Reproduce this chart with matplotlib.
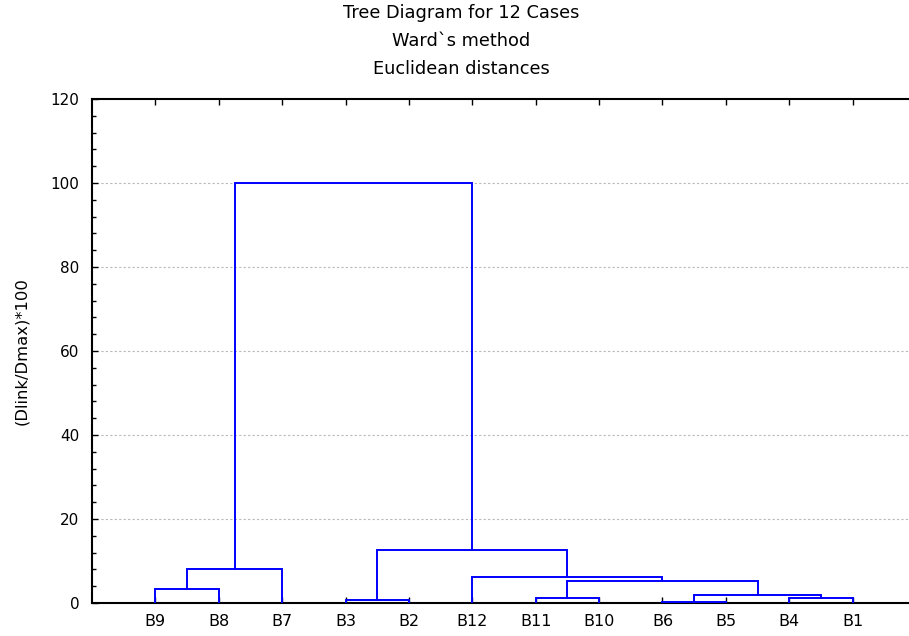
import matplotlib
matplotlib.use('Agg')
import matplotlib.pyplot as plt
from matplotlib.ticker import MultipleLocator

plt.rcParams['font.family'] = ['DejaVu Sans']

# leaf order as shown on the x axis
labels = ['B9', 'B8', 'B7', 'B3', 'B2', 'B12', 'B11', 'B10', 'B6', 'B5', 'B4', 'B1']

# merges: node name, the two joined members, linkage distance (Dlink/Dmax)*100
merge_name = ['m1', 'm2', 'm3', 'm4', 'm5', 'm6', 'm7', 'm8', 'm9', 'm10', 'm11']
merge_a = ['B6', 'B3', 'B11', 'B4', 'm1', 'B9', 'm3', 'B12', 'm6', 'm2', 'm9']
merge_b = ['B5', 'B2', 'B10', 'B1', 'm4', 'B8', 'm5', 'm7', 'B7', 'm8', 'm10']
merge_height = [0.3, 0.8, 1.1, 1.1, 2.0, 3.4, 5.3, 6.2, 8.1, 12.7, 100.0]

title_lines = ['Tree Diagram for 12 Cases', 'Ward`s method', 'Euclidean distances']

fig = plt.figure(figsize=(9.09, 6.36), dpi=100)
ax = fig.add_axes([92 / 909, 33 / 636, 824 / 909, 504 / 636])

pos = {lab: i + 1 for i, lab in enumerate(labels)}
hgt = {lab: 0.0 for lab in labels}
for name, a, b, h in zip(merge_name, merge_a, merge_b, merge_height):
    xa, xb = pos[a], pos[b]
    ax.plot([xa, xa, xb, xb], [hgt[a], h, h, hgt[b]], color='#0000ff', lw=1.4,
            solid_joinstyle='miter', zorder=3)
    pos[name] = (xa + xb) / 2
    hgt[name] = h

ax.set_xlim(0, 13)
ax.set_ylim(0, 120)
ax.set_xticks(range(1, len(labels) + 1))
ax.set_xticklabels(labels)
ax.yaxis.set_major_locator(MultipleLocator(20))
ax.yaxis.set_minor_locator(MultipleLocator(4))
ax.tick_params(axis='both', which='both', direction='in', color='black')
ax.tick_params(axis='x', top=True, length=4, width=1, labelsize=11.5, pad=8)
ax.tick_params(axis='y', which='major', length=4, width=1, labelsize=11, pad=9)
ax.tick_params(axis='y', which='minor', length=3, width=1)

for s in ax.spines.values():
    s.set_linewidth(1.5)

for v in range(20, 101, 20):
    ax.axhline(v, color='#b8b8b8', lw=0.8, ls=(0, (2, 2)), zorder=1)

ax.set_ylabel('(Dlink/Dmax)*100', fontsize=11.8)
ax.yaxis.set_label_coords(-0.0765, 0.5)

for i, t in enumerate(title_lines):
    fig.text(461 / 909, 1 - (13 + 28 * i) / 636, t, ha='center', va='center',
             fontsize=12.8)

fig.savefig('out.png', dpi=100)
